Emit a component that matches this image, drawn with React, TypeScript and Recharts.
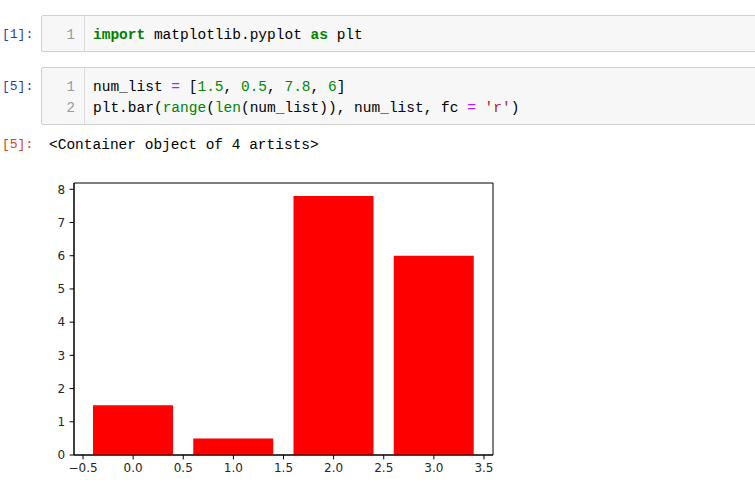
import React from 'react';
import { ComposedChart, Bar, XAxis, YAxis, ReferenceArea } from 'recharts';

const positions = [0, 1, 2, 3];
const numList = [1.5, 0.5, 7.8, 6];
const xTicks = [-0.5, 0, 0.5, 1, 1.5, 2, 2.5, 3, 3.5];
const yTicks = [0, 1, 2, 3, 4, 5, 6, 7, 8];
const xDomain: [number, number] = [-0.59, 3.59];
const yDomain: [number, number] = [0, 8.19];

const data = positions.map((x, i) => ({ x, v: numList[i] }));

const MONO = '"Liberation Mono", "DejaVu Sans Mono", monospace';
const C = {
  kw: '#008000',
  num: '#008800',
  builtin: '#008000',
  op: '#AA22FF',
  str: '#BA2121',
  text: '#000',
};

const S = (color: string, t: string, bold = false) => (
  <span style={{ color, fontWeight: bold ? 'bold' : 'normal' }}>{t}</span>
);

const cellBox = (top: number, height: number): React.CSSProperties => ({
  position: 'absolute',
  left: 41,
  top,
  width: 740,
  height: height - 2,
  background: '#f7f7f7',
  border: '1px solid #cfcfcf',
  borderRadius: 2,
});

const gutter = (height: number): React.CSSProperties => ({
  position: 'absolute',
  left: 0,
  top: 0,
  width: 42,
  height: height - 2,
  borderRight: '1px solid #ddd',
});

const lineStyle = (top: number): React.CSSProperties => ({
  position: 'absolute',
  left: 51,
  top,
  height: 20,
  lineHeight: '20px',
  fontFamily: MONO,
  fontSize: 14.5,
  whiteSpace: 'pre',
  color: C.text,
});

const lnStyle = (top: number): React.CSSProperties => ({
  position: 'absolute',
  left: 0,
  width: 33,
  textAlign: 'right',
  top,
  height: 20,
  lineHeight: '20px',
  fontFamily: MONO,
  fontSize: 14,
  color: '#999',
});

const prompt = (top: number, color: string, t: string): React.ReactNode => (
  <div
    style={{
      position: 'absolute',
      left: 2,
      top,
      height: 20,
      lineHeight: '20px',
      fontFamily: MONO,
      fontSize: 13,
      color,
      whiteSpace: 'pre',
    }}
  >
    {t}
  </div>
);

const fmt = (v: number) => v.toFixed(1).replace('-', '\u2212');

const tickFont = {
  fill: '#262626',
  fontSize: 12,
  fontFamily: '"DejaVu Sans"',
  style: { fontSize: 12, fontFamily: '"DejaVu Sans"' },
};

export default function App() {
  return (
    <div style={{ position: 'absolute', left: 0, top: 0, width: 755, height: 485, background: '#fff', overflow: 'hidden' }}>
      {prompt(25, '#303F9F', '[1]:')}
      <div style={cellBox(15, 37)}>
        <div style={gutter(37)} />
        <div style={lnStyle(9)}>1</div>
        <div style={lineStyle(9)}>
          {S(C.kw, 'import', true)} matplotlib.pyplot {S(C.kw, 'as', true)} plt
        </div>
      </div>

      {prompt(77, '#303F9F', '[5]:')}
      <div style={cellBox(67, 58)}>
        <div style={gutter(58)} />
        <div style={lnStyle(9)}>1</div>
        <div style={lnStyle(29.5)}>2</div>
        <div style={lineStyle(9)}>
          num_list {S(C.op, '=')} [{S(C.num, '1.5')}, {S(C.num, '0.5')}, {S(C.num, '7.8')}, {S(C.num, '6')}]
        </div>
        <div style={lineStyle(29.5)}>
          plt.bar({S(C.builtin, 'range')}({S(C.builtin, 'len')}(num_list)), num_list, fc {S(C.op, '=')} {S(C.str, "'r'")})
        </div>
      </div>

      {prompt(135, '#D84315', '[5]:')}
      <div
        style={{
          position: 'absolute',
          left: 49,
          top: 135,
          height: 20,
          lineHeight: '20px',
          fontFamily: MONO,
          fontSize: 14.5,
          whiteSpace: 'pre',
          color: '#000',
        }}
      >
        {'<Container object of 4 artists>'}
      </div>

      <div style={{ position: 'absolute', left: 0, top: 170 }}>
        <ComposedChart
          width={520}
          height={310}
          data={data}
          margin={{ top: 13, right: 27, bottom: 0, left: 0 }}
        >
          <XAxis
            dataKey="x"
            type="number"
            domain={xDomain}
            ticks={xTicks}
            interval={0}
            allowDataOverflow
            height={25}
            tickFormatter={fmt}
            tickSize={4.4}
            tickMargin={4}
            axisLine={{ stroke: '#000' }}
            tickLine={{ stroke: '#000' }}
            tick={tickFont}
          />
          <YAxis
            type="number"
            domain={yDomain}
            ticks={yTicks}
            interval={0}
            allowDataOverflow
            width={74}
            tickSize={4.4}
            tickMargin={4.5}
            axisLine={{ stroke: '#000' }}
            tickLine={{ stroke: '#000' }}
            tick={tickFont}
          />
          <Bar dataKey="v" fill="#ff0000" barSize={80} isAnimationActive={false} />
          <ReferenceArea
            x1={xDomain[0]}
            x2={xDomain[1]}
            y1={yDomain[0]}
            y2={yDomain[1]}
            fill="none"
            fillOpacity={0}
            stroke="#000"
            strokeWidth={1}
            ifOverflow="visible"
          />
        </ComposedChart>
      </div>
    </div>
  );
}
